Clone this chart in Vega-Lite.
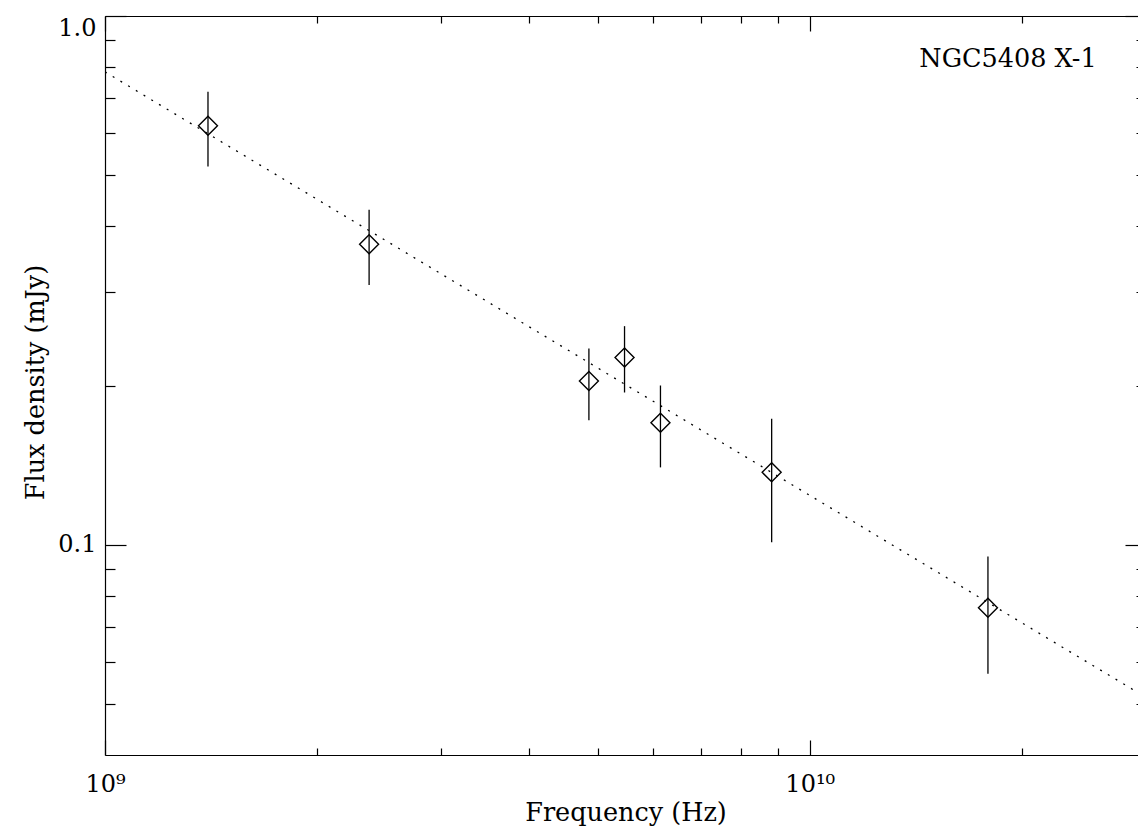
{
  "$schema": "https://vega.github.io/schema/vega-lite/v6.json",
  "width": 1041,
  "height": 739,
  "autosize": {"type": "none"},
  "padding": {"left": 105, "top": 16, "right": -8, "bottom": 75},
  "background": "white",
  "config": {
    "view": {"stroke": null},
    "axis": {
      "labelFont": "DejaVu Serif",
      "titleFont": "DejaVu Serif",
      "labelFontSize": 24,
      "titleFontSize": 25.5,
      "labelColor": "black",
      "titleColor": "black",
      "titleFontWeight": "normal",
      "domainColor": "black",
      "tickColor": "black",
      "grid": false,
      "domainWidth": 1.2,
      "tickWidth": 1.2
    }
  },
  "datasets": {
    "obs": [
      {"freq": 1.4e9, "flux": 0.620, "lo": 0.519, "hi": 0.719},
      {"freq": 2.37e9, "flux": 0.370, "lo": 0.310, "hi": 0.430},
      {"freq": 4.86e9, "flux": 0.204, "lo": 0.172, "hi": 0.235},
      {"freq": 5.46e9, "flux": 0.226, "lo": 0.194, "hi": 0.259},
      {"freq": 6.14e9, "flux": 0.170, "lo": 0.140, "hi": 0.200},
      {"freq": 8.83e9, "flux": 0.137, "lo": 0.101, "hi": 0.173},
      {"freq": 1.79e10, "flux": 0.076, "lo": 0.057, "hi": 0.095}
    ],
    "fit": [
      {"freq": 1e9, "flux": 0.784},
      {"freq": 3e10, "flux": 0.0514}
    ],
    "label": [
      {"name": "NGC5408 X-1"}
    ]
  },
  "layer": [
    {
      "data": {"name": "fit"},
      "mark": {"type": "line", "color": "black", "strokeDash": [2, 7], "strokeWidth": 1.3, "clip": true},
      "encoding": {
        "x": {
          "field": "freq", "type": "quantitative",
          "scale": {"type": "log", "domain": [1e9, 3e10], "nice": false},
          "axis": {
            "orient": "bottom", "values": [1e9, 1e10],
            "labelExpr": "datum.value < 5e9 ? '10⁹' : '10¹⁰'",
            "tickSize": -15, "labelPadding": 32, "labelFlush": false,
            "title": "Frequency (Hz)", "titleX": 520.5, "titleY": 65,
            "titleBaseline": "alphabetic", "titleAlign": "center",
            "domain": true
          }
        },
        "y": {
          "field": "flux", "type": "quantitative",
          "scale": {"type": "log", "domain": [0.04, 1.0], "nice": false},
          "axis": {
            "orient": "left", "values": [0.1, 1],
            "labelExpr": "datum.value > 0.5 ? '1.0' : '0.1'",
            "tickSize": -21, "labelPadding": 30, "labelFlush": true,
            "title": "Flux density (mJy)", "titleX": -62, "titleY": 366,
            "titleAngle": -90, "titleBaseline": "alphabetic", "titleAlign": "center",
            "domain": true
          }
        }
      }
    },
    {
      "data": {"name": "obs"},
      "mark": {"type": "rule", "color": "black", "strokeWidth": 1.3},
      "encoding": {
        "x": {
          "field": "freq", "type": "quantitative",
          "scale": {"type": "log", "domain": [1e9, 3e10], "nice": false},
          "axis": {
            "orient": "bottom", "values": [2e9, 3e9, 4e9, 5e9, 6e9, 7e9, 8e9, 9e9, 2e10],
            "tickSize": -7, "labels": false, "title": null, "domain": false
          }
        },
        "y": {
          "field": "lo", "type": "quantitative",
          "scale": {"type": "log", "domain": [0.04, 1.0], "nice": false},
          "axis": {
            "orient": "left", "values": [0.05, 0.06, 0.07, 0.08, 0.09, 0.2, 0.3, 0.4, 0.5, 0.6, 0.7, 0.8, 0.9],
            "tickSize": -10, "labels": false, "title": null, "domain": false
          }
        },
        "y2": {"field": "hi"}
      }
    },
    {
      "data": {"name": "obs"},
      "mark": {"type": "point", "shape": "diamond", "size": 361, "filled": false, "color": "black", "strokeWidth": 1.4, "opacity": 1},
      "encoding": {
        "x": {
          "field": "freq", "type": "quantitative",
          "scale": {"type": "log", "domain": [1e9, 3e10], "nice": false},
          "axis": {
            "orient": "top", "values": [1e9, 1e10],
            "tickSize": -15, "labels": false, "title": null, "domain": true
          }
        },
        "y": {
          "field": "flux", "type": "quantitative",
          "scale": {"type": "log", "domain": [0.04, 1.0], "nice": false},
          "axis": {
            "orient": "right", "values": [0.1, 1],
            "tickSize": -21, "labels": false, "title": null, "domain": true
          }
        }
      }
    },
    {
      "data": {"name": "label"},
      "mark": {"type": "text", "align": "right", "baseline": "alphabetic", "font": "DejaVu Serif", "fontSize": 25.5, "color": "black"},
      "encoding": {
        "text": {"field": "name"},
        "x": {
          "datum": 2.553e10, "type": "quantitative",
          "scale": {"type": "log", "domain": [1e9, 3e10], "nice": false},
          "axis": {
            "orient": "top", "values": [2e9, 3e9, 4e9, 5e9, 6e9, 7e9, 8e9, 9e9, 2e10],
            "tickSize": -7, "labels": false, "title": null, "domain": false
          }
        },
        "y": {
          "datum": 0.80, "type": "quantitative",
          "scale": {"type": "log", "domain": [0.04, 1.0], "nice": false},
          "axis": {
            "orient": "right", "values": [0.05, 0.06, 0.07, 0.08, 0.09, 0.2, 0.3, 0.4, 0.5, 0.6, 0.7, 0.8, 0.9],
            "tickSize": -10, "labels": false, "title": null, "domain": false
          }
        }
      }
    }
  ],
  "resolve": {"axis": {"x": "independent", "y": "independent"}}
}
